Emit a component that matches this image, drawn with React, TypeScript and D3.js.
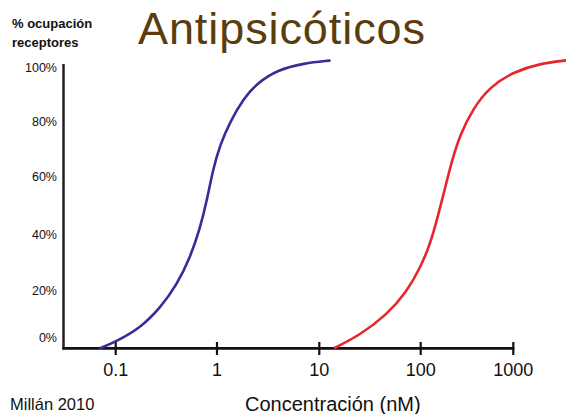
import * as d3 from "d3";
import { useEffect, useRef } from "react";

// concentration (nM) and % receptor occupancy
const blueConc = [0.07, 0.098, 0.174, 0.274, 0.4, 0.54, 0.68, 0.79, 0.918, 1.07, 1.34, 1.82, 2.47, 3.89, 7.1, 12.6];
const bluePct = [0, 2.1, 6.9, 13.8, 21.8, 31.0, 41.3, 50.5, 62.0, 70.0, 78.0, 86.1, 91.3, 95.9, 98.2, 99.1];

const redConc = [14.3, 25.2, 46.2, 72.8, 98.4, 126, 155, 183, 216, 265, 369, 560, 1000, 1940, 3770];
const redPct = [0.2, 4.6, 11.5, 19.5, 27.6, 35.6, 46.0, 55.1, 64.3, 73.5, 82.7, 90.1, 95.2, 98.1, 99.2];

const xTicks = [0.1, 1, 10, 100, 1000];
const xTickLabels = ["0.1", "1", "10", "100", "1000"];
const yTicks = [0, 20, 40, 60, 80, 100];
const yTickLabels = ["0%", "20%", "40%", "60%", "80%", "100%"];

const W = 566;
const H = 414;
const font = "'Liberation Sans', Arial, Helvetica, sans-serif";

const App = () => {
  const ref = useRef<HTMLDivElement>(null);

  useEffect(() => {
    document.body.style.margin = "0";
    const root = d3.select(ref.current);
    root.selectAll("*").remove();
    const svg = root
      .append("svg")
      .attr("width", W)
      .attr("height", H)
      .attr("style", "background: white; display: block");

    // decades are not evenly spaced in the original, so piecewise
    const x = d3.scaleLog().domain(xTicks).range([115.7, 217, 319.3, 420.7, 513.3]);
    const y = d3.scaleLinear().domain([0, 100]).range([348.3, 58]);
    // tick labels sit at hand-placed heights
    const yLab = d3.scaleLinear().domain(yTicks).range([338, 291, 235, 177, 122, 68]);

    svg
      .append("text")
      .attr("x", 138)
      .attr("y", 44)
      .attr("font-family", font)
      .attr("font-size", 45)
      .attr("textLength", 287)
      .attr("fill", "#5b3c0c")
      .text("Antipsicóticos");

    const yt = svg
      .append("text")
      .attr("font-family", font)
      .attr("font-size", 13)
      .attr("font-weight", "bold")
      .attr("fill", "#111");
    yt.append("tspan").attr("x", 12).attr("y", 28).text("% ocupación");
    yt.append("tspan").attr("x", 12).attr("y", 47).text("receptores");

    // axes
    svg
      .append("line")
      .attr("x1", 63.5)
      .attr("x2", 63.5)
      .attr("y1", 64)
      .attr("y2", 349.5)
      .attr("stroke", "#222")
      .attr("stroke-width", 2.5);
    svg
      .append("line")
      .attr("x1", 62.5)
      .attr("x2", x(1000) + 1)
      .attr("y1", 348.3)
      .attr("y2", 348.3)
      .attr("stroke", "#111")
      .attr("stroke-width", 2.8);

    svg
      .selectAll(".xtick")
      .data(xTicks)
      .enter()
      .append("line")
      .attr("x1", (d) => x(d))
      .attr("x2", (d) => x(d))
      .attr("y1", 342)
      .attr("y2", 355)
      .attr("stroke", "#111")
      .attr("stroke-width", 2.2);

    svg
      .selectAll(".xlab")
      .data(xTicks)
      .enter()
      .append("text")
      .attr("x", (d) => x(d))
      .attr("y", 376)
      .attr("text-anchor", "middle")
      .attr("font-family", font)
      .attr("font-size", 18)
      .attr("fill", "#111")
      .text((d, i) => xTickLabels[i]);

    svg
      .selectAll(".ylab")
      .data(yTicks)
      .enter()
      .append("text")
      .attr("x", 57)
      .attr("y", (d) => yLab(d))
      .attr("dy", "0.35em")
      .attr("text-anchor", "end")
      .attr("font-family", font)
      .attr("font-size", 12.5)
      .attr("fill", "#111")
      .text((d, i) => yTickLabels[i]);

    const line = d3.line().curve(d3.curveBasis);

    const drawCurve = (conc: number[], pct: number[], color: string) => {
      const pts = conc.map((c, i) => [x(c), y(pct[i])] as [number, number]);
      svg
        .append("path")
        .attr("d", line(pts))
        .attr("fill", "none")
        .attr("stroke", color)
        .attr("stroke-width", 2.6)
        .attr("stroke-linecap", "round");
    };
    drawCurve(blueConc, bluePct, "#3a2b96");
    drawCurve(redConc, redPct, "#e5262c");

    svg
      .append("text")
      .attr("x", 10)
      .attr("y", 410)
      .attr("font-family", font)
      .attr("font-size", 16.5)
      .attr("fill", "#111")
      .text("Millán 2010");

    svg
      .append("text")
      .attr("x", 245)
      .attr("y", 411)
      .attr("font-family", font)
      .attr("font-size", 20)
      .attr("fill", "#111")
      .text("Concentración (nM)");
  }, []);

  return <div ref={ref}></div>;
};

export default App;
